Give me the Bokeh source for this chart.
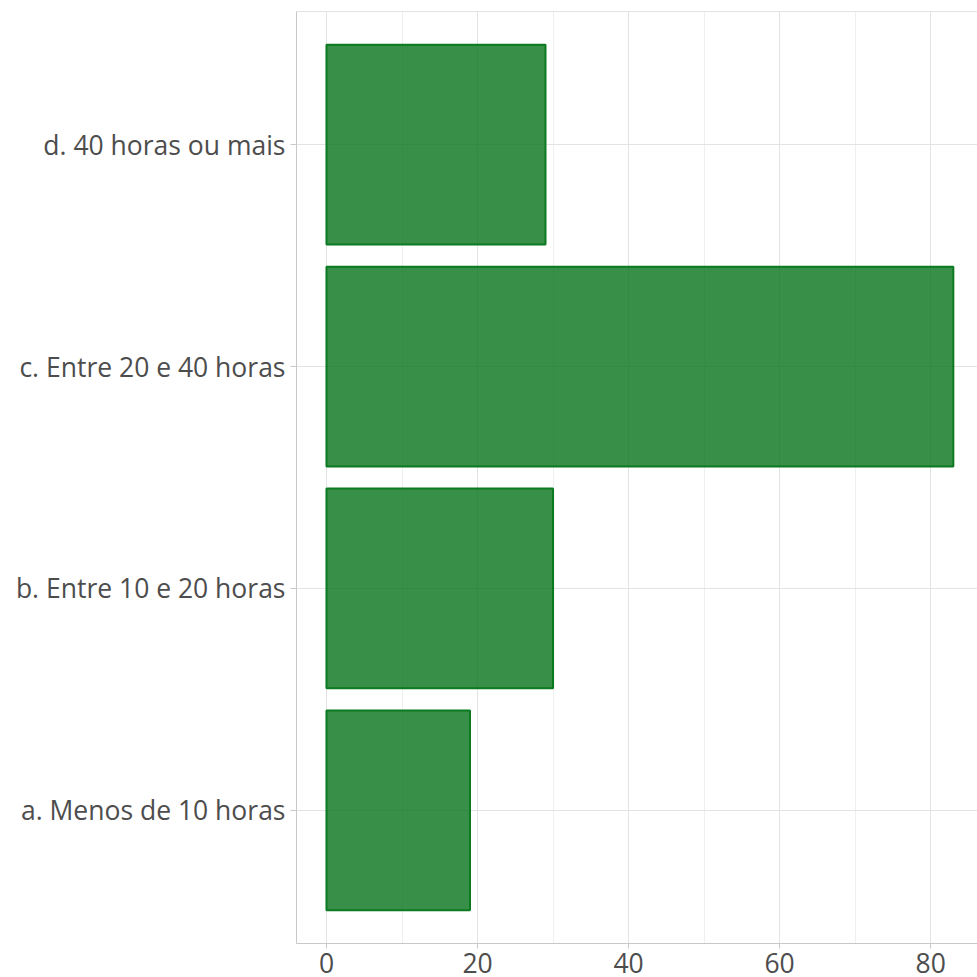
from bokeh.plotting import figure
from bokeh.models import FactorRange, Range1d, SingleIntervalTicker, Span
from bokeh.embed import file_html
from bokeh.resources import INLINE

categories = ["a. Menos de 10 horas", "b. Entre 10 e 20 horas",
              "c. Entre 20 e 40 horas", "d. 40 horas ou mais"]
values = [19, 30, 83, 29]

FONT = "Open Sans"
TEXT = "#4d4d4d"
AXIS = "#c8c8c8"

p = figure(
    y_range=FactorRange(factors=categories, range_padding=0.05),
    x_range=Range1d(-3.97, 86.2),
    width=977, height=977, sizing_mode="fixed",
    min_border_left=296, min_border_right=0, min_border_top=11, min_border_bottom=34,
    output_backend="svg", toolbar_location=None,
)
p.outline_line_color = None

p.hbar(y=categories, left=0, right=values, height=0.9,
       fill_color="#067319", fill_alpha=0.8, line_color="#0b7a20", line_width=2)

p.xaxis.ticker = SingleIntervalTicker(interval=20, num_minor_ticks=2)
for ax in (p.xaxis, p.yaxis):
    ax.axis_line_color = AXIS
    ax.major_tick_line_color = AXIS
    ax.minor_tick_line_color = None
    ax.major_label_text_font = FONT
    ax.major_label_text_font_size = "26.5px"
    ax.major_label_text_color = TEXT
    ax.major_tick_in = 0
p.xaxis.major_tick_out = 5
p.yaxis.major_tick_out = 6
p.xaxis.major_label_standoff = 4
p.yaxis.major_label_standoff = 5

p.xgrid.grid_line_color = "#e3e3e3"
p.xgrid.minor_grid_line_color = "#efefef"
p.ygrid.grid_line_color = "#e3e3e3"

p.add_layout(Span(location=4.1, dimension="width", line_color=AXIS, line_width=1))

open("out.html", "w").write(file_html(p, INLINE))
